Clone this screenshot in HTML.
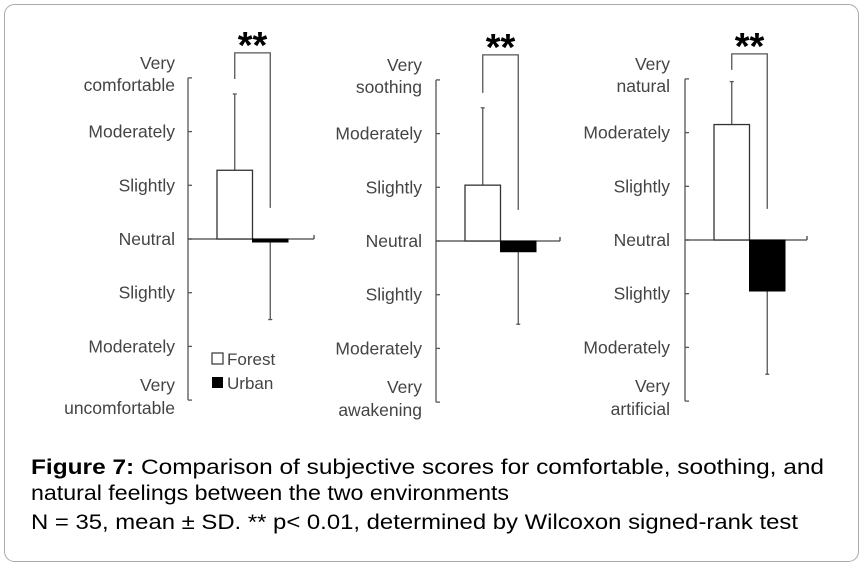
<!DOCTYPE html>
<html><head><meta charset="utf-8"><style>
body{margin:0;background:#fff;width:864px;height:565px;overflow:hidden;font-family:"Liberation Sans",Arial,sans-serif}
svg{position:absolute;left:0;top:0}
</style></head><body>
<svg id="c" width="864" height="565">
<rect x="4.5" y="4.5" width="854" height="557" rx="10" fill="#fff" stroke="#aaa"/>
<g id="plots"></g>
<g font-size="21" fill="#000">
<text x="31" y="474" textLength="793" lengthAdjust="spacingAndGlyphs"><tspan font-weight="bold">Figure 7:</tspan> Comparison of subjective scores for comfortable, soothing, and</text>
<text x="31" y="500" textLength="478" lengthAdjust="spacingAndGlyphs">natural feelings between the two environments</text>
<text x="31" y="529" textLength="767" lengthAdjust="spacingAndGlyphs">N = 35, mean ± SD. ** p&lt; 0.01, determined by Wilcoxon signed-rank test</text>
</g>
</svg>
<script>
const panelNames=["comfortable","soothing","natural"];
const topLabels=[["Very","comfortable"],["Very","soothing"],["Very","natural"]];
const bottomLabels=[["Very","uncomfortable"],["Very","awakening"],["Very","artificial"]];
const tickLabels=["Moderately","Slightly","Neutral","Slightly","Moderately"];
const forestMean=[1.28,1.04,2.15];
const forestSD=[1.42,1.44,0.80];
const urbanMean=[-0.05,-0.2,-0.95];
const urbanSD=[1.45,1.35,1.55];
const geo=[{ax:188,z:239,labR:175,end:314},{ax:436,z:241,labR:422,end:560},{ax:685,z:240,labR:670,end:807}];
const U=53.7;
const NS="http://www.w3.org/2000/svg";
const root=document.getElementById('plots');
function mk(t,a,p){const e=document.createElementNS(NS,t);for(const k in a)e.setAttribute(k,a[k]);(p||root).appendChild(e);return e;}
geo.forEach((g,i)=>{
  const y=v=>g.z-v*U;
  const grp=mk('g',{});
  
  
  const ax=mk('line',{x1:g.ax,x2:g.ax,y1:y(3),y2:y(-3),stroke:'#555','stroke-width':1.3},grp);
  
  
  for(let v=-3;v<=3;v++){mk('line',{x1:g.ax,x2:g.ax+4,y1:y(v),y2:y(v),stroke:'#555','stroke-width':1.3},grp);}
  const xa=mk('line',{x1:g.ax,x2:g.end,y1:g.z,y2:g.z,stroke:'#444','stroke-width':1.3},grp);
  
  
  mk('line',{x1:g.end,x2:g.end,y1:g.z-4,y2:g.z,stroke:'#444','stroke-width':1.3},grp);
  const lab=(txt,yy)=>{const t=mk('text',{x:g.labR,y:yy,'text-anchor':'end','font-size':17.5,fill:'#444'},grp);t.textContent=txt;
    
    };
  lab(topLabels[i][0],y(3)-9);lab(topLabels[i][1],y(3)+13);
  tickLabels.forEach((s,k)=>lab(s,y(2-k)+6));
  lab(bottomLabels[i][0],y(-3)-9);lab(bottomLabels[i][1],y(-3)+14);
  const bx=g.ax+29,bw=35.5;
  const fx=bx+bw/2,ux=bx+bw*1.5;
  const fe=mk('line',{x1:fx,x2:fx,y1:y(forestMean[i]),y2:y(forestMean[i]+forestSD[i]),stroke:'#555','stroke-width':1.3},grp);
  
  
  mk('line',{x1:fx-2,x2:fx+2,y1:y(forestMean[i]+forestSD[i]),y2:y(forestMean[i]+forestSD[i]),stroke:'#555','stroke-width':1.3},grp);
  const ue=mk('line',{x1:ux,x2:ux,y1:y(urbanMean[i]),y2:y(urbanMean[i]-urbanSD[i]),stroke:'#555','stroke-width':1.3},grp);
  
  
  mk('line',{x1:ux-2,x2:ux+2,y1:y(urbanMean[i]-urbanSD[i]),y2:y(urbanMean[i]-urbanSD[i]),stroke:'#555','stroke-width':1.3},grp);
  const fb=mk('rect',{x:bx,y:Math.min(y(forestMean[i]),g.z),width:bw,height:Math.abs(forestMean[i])*U,fill:'#fff',stroke:'#333','stroke-width':1.3},grp);
  
  
  const ub=mk('rect',{x:bx+bw,y:Math.min(y(urbanMean[i]),g.z),width:bw,height:Math.max(Math.abs(urbanMean[i])*U,3),fill:'#000',stroke:'#000','stroke-width':1},grp);
  
  
  const bt=y(3)-25;
  const br=mk('path',{d:`M${fx},${Math.max(y(forestMean[i]+forestSD[i])-15,bt+16)} V${bt} H${ux} V${y(0.58)}`,fill:'none',stroke:'#555','stroke-width':1.3},grp);
  
  
  const st=mk('text',{x:(fx+ux)/2,y:bt+5,'text-anchor':'middle','font-size':38,'font-weight':'bold',fill:'#000'},grp);
  st.textContent='**';
  
  
  if(i===0){
    const lg=mk('g',{},grp);
    
    
    mk('rect',{x:212,y:353,width:11,height:11,fill:'#fff',stroke:'#333','stroke-width':1.2},lg);
    const t1=mk('text',{x:227,y:365,'font-size':17,fill:'#444'},lg);t1.textContent='Forest';
    
    
    mk('rect',{x:212,y:377,width:11,height:11,fill:'#000'},lg);
    const t2=mk('text',{x:227,y:389,'font-size':17,fill:'#444'},lg);t2.textContent='Urban';
    
    
  }
});
</script>
</body></html>
